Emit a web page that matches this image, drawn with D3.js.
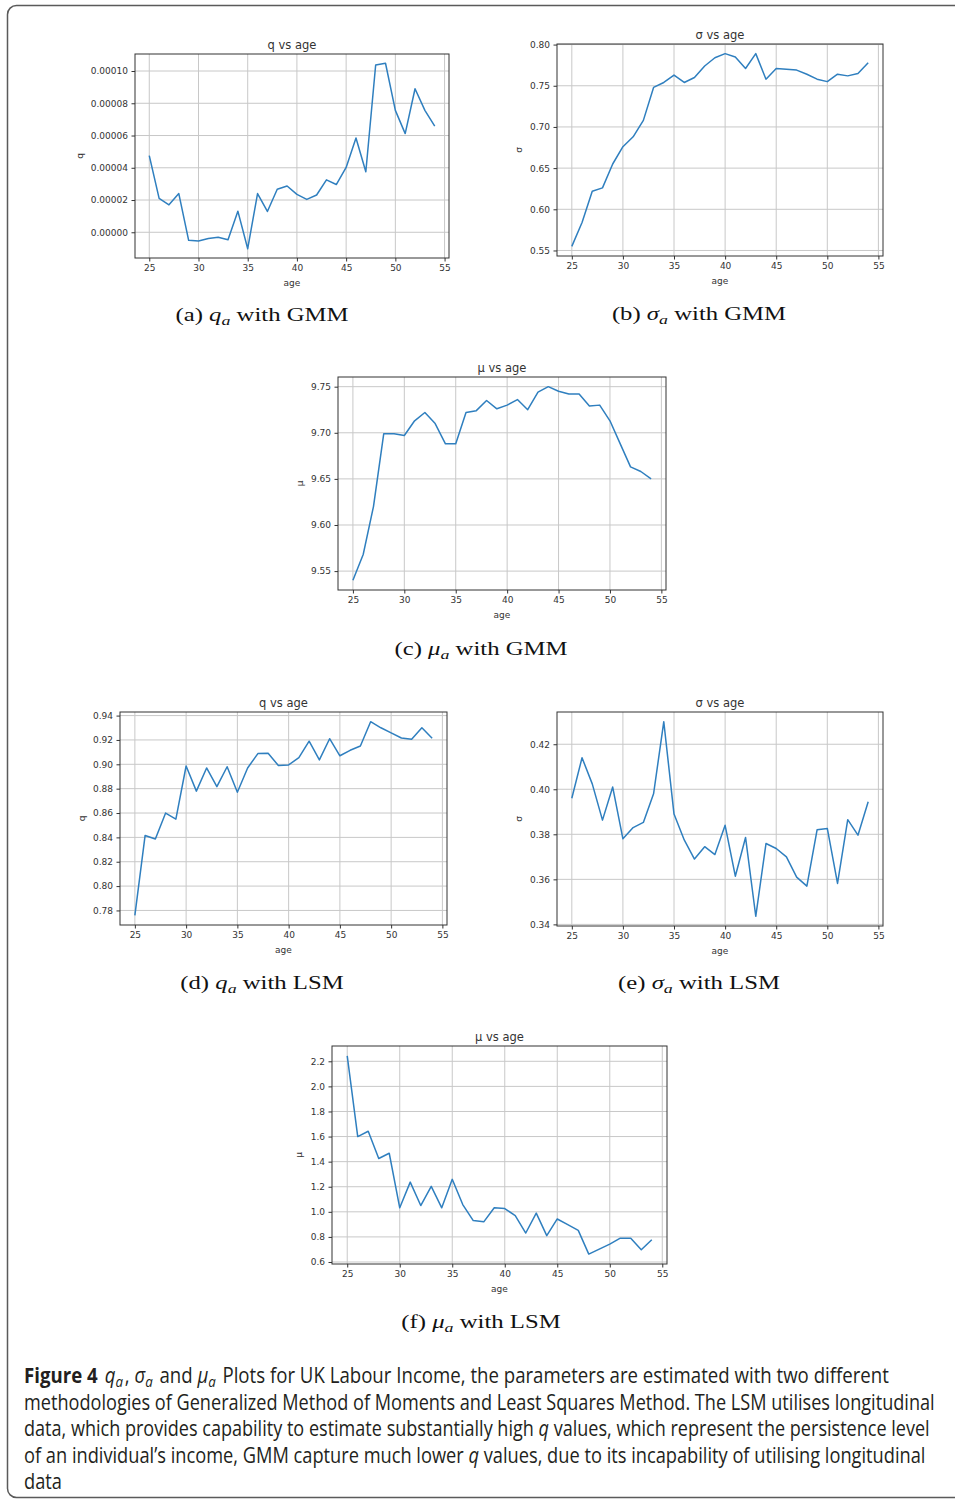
<!DOCTYPE html>
<html>
<head>
<meta charset="utf-8">
<script src="https://cdn.jsdelivr.net/npm/d3@7"></script>
<style>
  body { margin: 0; background: #fff; }
</style>
</head>
<body>
<div id="app"></div>
<script>
// ages on the x axis (same for all six panels)
const ages = [25, 26, 27, 28, 29, 30, 31, 32, 33, 34, 35, 36, 37, 38, 39,
  40, 41, 42, 43, 44, 45, 46, 47, 48, 49, 50, 51, 52, 53, 54];
const ageTicks = [25, 30, 35, 40, 45, 50, 55];

// GMM estimates
const qGmm = [0.0000475, 0.0000210, 0.0000170, 0.0000240, -0.0000050, -0.0000054,
  -0.0000038, -0.0000031, -0.0000046, 0.0000131, -0.0000102, 0.0000240, 0.0000129,
  0.0000267, 0.0000287, 0.0000235, 0.0000204, 0.0000231, 0.0000325, 0.0000296,
  0.0000402, 0.0000585, 0.0000375, 0.0001037, 0.0001048, 0.0000756, 0.0000612,
  0.0000890, 0.0000756, 0.0000658];
const sigmaGmm = [0.555, 0.584, 0.622, 0.626, 0.655, 0.676, 0.688, 0.708, 0.748, 0.754,
  0.763, 0.754, 0.760, 0.774, 0.784, 0.789, 0.785, 0.771, 0.789, 0.758,
  0.771, 0.770, 0.769, 0.764, 0.758, 0.755, 0.764, 0.762, 0.765, 0.778];
const muGmm = [9.540, 9.568, 9.620, 9.699, 9.699, 9.697, 9.713, 9.722, 9.710, 9.688,
  9.688, 9.722, 9.724, 9.735, 9.726, 9.730, 9.736, 9.725, 9.744, 9.750,
  9.745, 9.742, 9.742, 9.729, 9.730, 9.713, 9.688, 9.663, 9.658, 9.650];

// LSM estimates
const qLsm = [0.776, 0.8416, 0.8386, 0.860, 0.855, 0.8986, 0.878, 0.897, 0.8816, 0.898,
  0.877, 0.897, 0.9088, 0.909, 0.899, 0.8995, 0.9055, 0.919, 0.9036, 0.921,
  0.907, 0.9115, 0.915, 0.935, 0.930, 0.9258, 0.9216, 0.9205, 0.930, 0.9214];
const sigmaLsm = [0.396, 0.414, 0.4024, 0.3863, 0.401, 0.378, 0.383, 0.3853, 0.398, 0.430,
  0.389, 0.3775, 0.369, 0.3745, 0.371, 0.384, 0.3614, 0.3786, 0.3436, 0.3759,
  0.3737, 0.370, 0.361, 0.357, 0.382, 0.3826, 0.3582, 0.3865, 0.3796, 0.3945];
const muLsm = [2.243, 1.600, 1.642, 1.425, 1.467, 1.032, 1.237, 1.050, 1.203, 1.032,
  1.259, 1.058, 0.930, 0.920, 1.032, 1.026, 0.970, 0.831, 0.990, 0.810,
  0.943, 0.898, 0.852, 0.663, 0.703, 0.743, 0.790, 0.790, 0.697, 0.777];

// y tick labels
const qGmmTicks = [0, 0.00002, 0.00004, 0.00006, 0.00008, 0.0001];
const sigmaGmmTicks = [0.55, 0.60, 0.65, 0.70, 0.75, 0.80];
const muGmmTicks = [9.55, 9.60, 9.65, 9.70, 9.75];
const qLsmTicks = [0.78, 0.80, 0.82, 0.84, 0.86, 0.88, 0.90, 0.92, 0.94];
const sigmaLsmTicks = [0.34, 0.36, 0.38, 0.40, 0.42];
const muLsmTicks = [0.6, 0.8, 1.0, 1.2, 1.4, 1.6, 1.8, 2.0, 2.2];

const panels = [
  { tag: "(a)", sym: "q", method: "GMM", title: "q vs age", ylabel: "q", values: qGmm, ticks: qGmmTicks, digits: 5, box: [135, 54, 449, 258], cap: [262, 321] },
  { tag: "(b)", sym: "σ", method: "GMM", title: "σ vs age", ylabel: "σ", values: sigmaGmm, ticks: sigmaGmmTicks, digits: 2, box: [557, 44, 883, 256], cap: [699, 320] },
  { tag: "(c)", sym: "μ", method: "GMM", title: "μ vs age", ylabel: "μ", values: muGmm, ticks: muGmmTicks, digits: 2, box: [338, 377, 666, 590], cap: [481, 655] },
  { tag: "(d)", sym: "q", method: "LSM", title: "q vs age", ylabel: "q", values: qLsm, ticks: qLsmTicks, digits: 2, box: [120, 712, 447, 925], cap: [262, 989] },
  { tag: "(e)", sym: "σ", method: "LSM", title: "σ vs age", ylabel: "σ", values: sigmaLsm, ticks: sigmaLsmTicks, digits: 2, box: [557, 712, 883, 926], cap: [699, 989] },
  { tag: "(f)", sym: "μ", method: "LSM", title: "μ vs age", ylabel: "μ", values: muLsm, ticks: muLsmTicks, digits: 1, box: [332, 1046, 667, 1264], cap: [481, 1328] }
];

const width = 955;
const height = 1500;
const ink = "#333";
const lineColor = "#2f7fbf";
const mplFont = "'DejaVu Sans', sans-serif";
const capFont = "'Liberation Serif', serif";

const svg = d3.select("#app").append("svg")
  .attr("width", width).attr("height", height)
  .style("display", "block").style("background", "#fff");

// rounded figure frame (runs off the right edge)
svg.append("rect")
  .attr("x", 7.5).attr("y", 5.5)
  .attr("width", 1000).attr("height", 1492)
  .attr("rx", 9)
  .attr("fill", "none").attr("stroke", "#5a5a5a").attr("stroke-width", 1.5);

// matplotlib-style 5% margin around the data
const pad = (ext) => {
  const m = (ext[1] - ext[0]) * 0.05;
  return [ext[0] - m, ext[1] + m];
};

const capGroups = [];

panels.forEach((p) => {
  const [x0, y0, x1, y1] = p.box;
  const x = d3.scaleLinear().domain(pad(d3.extent(ages))).range([x0, x1]);
  const y = d3.scaleLinear().domain(pad(d3.extent(p.values))).range([y1, y0]);
  const g = svg.append("g");

  // grid
  g.append("g").selectAll("line").data(ageTicks).join("line")
    .attr("x1", (d) => x(d)).attr("x2", (d) => x(d))
    .attr("y1", y0).attr("y2", y1)
    .attr("stroke", "#c8c8c8").attr("stroke-width", 1);
  g.append("g").selectAll("line").data(p.ticks).join("line")
    .attr("x1", x0).attr("x2", x1)
    .attr("y1", (d) => y(d)).attr("y2", (d) => y(d))
    .attr("stroke", "#c8c8c8").attr("stroke-width", 1);

  // data line
  g.append("path")
    .datum(ages.map((a, i) => [a, p.values[i]]))
    .attr("fill", "none")
    .attr("stroke", lineColor)
    .attr("stroke-width", 1.5)
    .attr("stroke-linejoin", "round")
    .attr("d", d3.line().x((d) => x(d[0])).y((d) => y(d[1])));

  // axes
  const xAxis = g.append("g")
    .attr("transform", `translate(0,${y1})`)
    .call(d3.axisBottom(x).tickValues(ageTicks).tickSize(3.5).tickPadding(3.5).tickFormat(d3.format("d")));
  const yAxis = g.append("g")
    .attr("transform", `translate(${x0},0)`)
    .call(d3.axisLeft(y).tickValues(p.ticks).tickSize(3.5).tickPadding(3.5).tickFormat(d3.format(`.${p.digits}f`)));
  [xAxis, yAxis].forEach((ax) => {
    ax.select(".domain").remove();
    ax.attr("font-family", mplFont).attr("font-size", 9);
    ax.selectAll(".tick line").attr("stroke", ink);
    ax.selectAll(".tick text").attr("fill", ink);
  });

  // spines
  g.append("rect")
    .attr("x", x0).attr("y", y0)
    .attr("width", x1 - x0).attr("height", y1 - y0)
    .attr("fill", "none").attr("stroke", ink).attr("stroke-width", 1);

  // title and axis labels
  g.append("text")
    .attr("x", (x0 + x1) / 2).attr("y", y0 - 5)
    .attr("text-anchor", "middle")
    .attr("font-family", mplFont).attr("font-size", 11.5).attr("fill", ink)
    .text(p.title);
  g.append("text")
    .attr("x", (x0 + x1) / 2).attr("y", y1 + 28)
    .attr("text-anchor", "middle")
    .attr("font-family", mplFont).attr("font-size", 9).attr("fill", ink)
    .text("age");
  const tickW = d3.max(yAxis.selectAll(".tick text").nodes(), (n) => n.getBBox().width);
  const lx = x0 - 7 - tickW - 8;
  g.append("text")
    .attr("transform", `translate(${lx},${(y0 + y1) / 2}) rotate(-90)`)
    .attr("text-anchor", "middle")
    .attr("font-family", mplFont).attr("font-size", 9).attr("fill", ink)
    .text(p.ylabel);

  // sub-caption "(a) q_a with GMM"
  const cg = svg.append("g");
  const t = cg.append("text")
    .attr("x", 0).attr("y", 0)
    .attr("font-family", capFont).attr("font-size", 18).attr("fill", "#111");
  t.append("tspan").text(p.tag + " ");
  t.append("tspan").attr("font-style", "italic").text(p.sym);
  t.append("tspan").attr("font-style", "italic").attr("font-size", 13).attr("dy", 4).text("a");
  t.append("tspan").attr("dy", -4).text(" with " + p.method);
  capGroups.push({ g: cg, t, cx: p.cap[0], cy: p.cap[1] });
});

// scale sub-captions to the reference width (taken from panel a: 173px)
const capK = 173 / capGroups[0].t.node().getComputedTextLength();
capGroups.forEach((c) => {
  const w = c.t.node().getComputedTextLength() * capK;
  c.g.attr("transform", `translate(${c.cx - w / 2},${c.cy}) scale(${capK},1)`);
});

// figure caption
const capFontSans = "'Open Sans', 'Noto Sans', sans-serif";
const captionLines = [
  [["Figure 4", "b"], ["q", "i", 8], ["a", "s"], [", ", "", 2], ["σ", "i"], ["a", "s"], [" and ", "", 2], ["μ", "i"], ["a", "s"],
    [" Plots for UK Labour Income, the parameters are estimated with two different", "", 2]],
  [["methodologies of Generalized Method of Moments and Least Squares Method. The LSM utilises longitudinal", ""]],
  [["data, which provides capability to estimate substantially high ", ""], ["q", "i"], [" values, which represent the persistence level", ""]],
  [["of an individual’s income, GMM capture much lower ", ""], ["q", "i"], [" values, due to its incapability of utilising longitudinal", ""]],
  [["data", ""]]
];
const captionBase = [1383, 1409.5, 1436, 1462.5, 1489];
const captionEnds = [877, 935, 930, 926];

const capTexts = captionLines.map((parts, li) => {
  const g = svg.append("g");
  const t = g.append("text")
    .attr("x", 0).attr("y", 0)
    .attr("font-family", capFontSans).attr("font-size", 21).attr("fill", "#231f20");
  let sub = false;
  parts.forEach(([s, kind, dx]) => {
    const ts = t.append("tspan").text(s);
    if (dx) ts.attr("dx", dx);
    if (kind === "b") ts.attr("font-weight", 700);
    if (kind === "i") ts.attr("font-style", "italic");
    if (kind === "s") { ts.attr("font-style", "italic").attr("font-size", 15).attr("dy", 4); sub = true; }
    else if (sub) { ts.attr("dy", -4); sub = false; }
  });
  return { g, t, y: captionBase[li] };
});
// each ragged line keeps its own reference width; the last line uses the average squeeze
const ks = capTexts.slice(0, 4).map((c, i) => (captionEnds[i] - 24) / c.t.node().getComputedTextLength());
const kMean = d3.mean(ks);
capTexts.forEach((c, i) => {
  const k = i < 4 ? ks[i] : kMean;
  c.g.attr("transform", `translate(24,${c.y}) scale(${k},1)`);
});
</script>
</body>
</html>
